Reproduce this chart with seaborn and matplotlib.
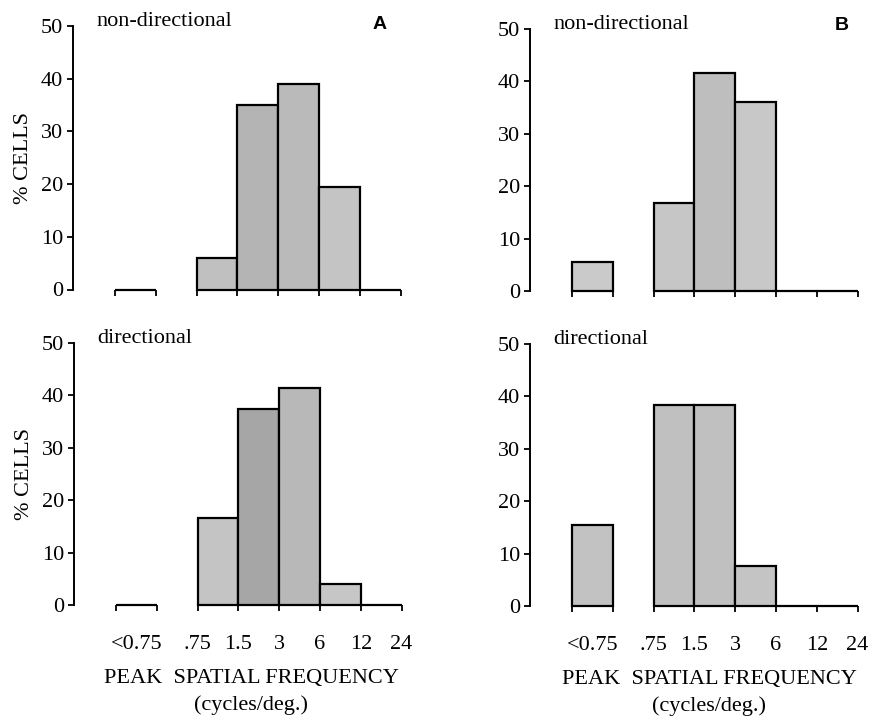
import numpy as np
import pandas as pd
import matplotlib
matplotlib.use("Agg")
import matplotlib.pyplot as plt
import seaborn as sns

# ---- data (percent of cells per peak spatial-frequency bin) ----
bin_labels = ["<0.75", ".75-1.5", "1.5-3", "3-6", "6-12", "12-24"]
edge_labels = [".75", "1.5", "3", "6", "12", "24"]
low_label = "<0.75"

A_nondirectional = [0.0, 6.0, 35.0, 39.0, 19.5, 0.0]
B_nondirectional = [5.6, 16.7, 41.6, 36.0, 0.0, 0.0]
A_directional = [0.0, 16.6, 37.4, 41.5, 4.0, 0.0]
B_directional = [15.4, 38.4, 38.4, 7.7, 0.0, 0.0]

panel_titles = ["non-directional", "non-directional", "directional", "directional"]
panel_letters = ["A", "B", "", ""]
x_title = "PEAK  SPATIAL FREQUENCY\n(cycles/deg.)"
y_title = "% CELLS"

bar_colors = [
    ["#c8c8c8", "#c0c0c0", "#b4b4b4", "#bababa", "#c4c4c4", "#c8c8c8"],
    ["#cacaca", "#c6c6c6", "#bebebe", "#c8c8c8", "#cccccc", "#cccccc"],
    ["#c8c8c8", "#c4c4c4", "#a6a6a6", "#b8b8b8", "#c6c6c6", "#c8c8c8"],
    ["#c2c2c2", "#c0c0c0", "#c0c0c0", "#c4c4c4", "#c4c4c4", "#c4c4c4"],
]

sns.set_theme(style="white")
plt.rcParams["font.family"] = ["Liberation Serif", "DejaVu Serif"]
plt.rcParams["axes.linewidth"] = 1.4

fig = plt.figure(figsize=(8.73, 7.23), dpi=100)
W, H = 873.0, 723.0

# axes boxes in pixels: (x of y-axis, y of zero line, height of 0..50)
boxes = [(73, 289.5, 263.5), (530, 291, 262), (74, 605, 262), (530, 606, 262)]
x_left_units = -1.03
x_right_units = 7.05
px_per_unit = 40.8
xlabel_x = [0.537, 0.543, 0.537, 0.543]
letter_pos = [(0.931, 1.004), (0.946, 1.015)]

all_data = [A_nondirectional, B_nondirectional, A_directional, B_directional]
FS = 16

for i, (vals, (x0, y0, hh)) in enumerate(zip(all_data, boxes)):
    width_px = (x_right_units - x_left_units) * px_per_unit
    ax = fig.add_axes([x0 / W, (H - y0) / H, width_px / W, hh / H])

    # bin positions: <0.75 bin is [0,1], then bin edges at 2..7
    low_df = pd.DataFrame({"pos": [0.5], "pct": [float(vals[0])]})
    main_df = pd.DataFrame({"pos": [2.5, 3.5, 4.5, 5.5, 6.5],
                            "pct": [float(v) for v in vals[1:]]})

    sns.histplot(data=low_df, x="pos", weights="pct", bins=[0.0, 1.0], ax=ax,
                 element="bars", fill=True, edgecolor="black", linewidth=1.6,
                 color=bar_colors[i][0], alpha=1)
    sns.histplot(data=main_df, x="pos", weights="pct",
                 bins=[2.0, 3.0, 4.0, 5.0, 6.0, 7.0], ax=ax,
                 element="bars", fill=True, edgecolor="black", linewidth=1.6,
                 color=bar_colors[i][1], alpha=1)
    for p, c in zip(ax.patches, bar_colors[i]):
        p.set_facecolor(c)
        p.set_clip_on(False)

    ax.set_xlim(x_left_units, x_right_units)
    ax.set_ylim(0, 50)
    for s in ["top", "right", "bottom"]:
        ax.spines[s].set_visible(False)
    ax.spines["left"].set_color("black")
    ax.spines["left"].set_linewidth(1.4)

    ax.set_yticks(range(0, 51, 10))
    ax.tick_params(axis="y", direction="out", length=4, width=1.3, pad=3,
                   labelsize=FS, colors="black", left=True)

    # x ticks: label for low bin at its center (no tick), edge labels at edges
    major_pos = [0.5] + list(range(2, 8))
    ax.set_xticks(major_pos)
    ax.set_xticks([0, 1], minor=True)
    ax.tick_params(axis="x", which="both", direction="out", length=4, width=1.3,
                   bottom=True, colors="black")
    ax.tick_params(axis="x", which="major", pad=17.5, labelsize=FS)
    ax.xaxis.get_major_ticks()[0].tick1line.set_visible(False)
    if i >= 2:
        ax.set_xticklabels([low_label] + edge_labels)
        ax.set_xlabel(x_title, fontsize=FS, linespacing=1.5, color="black")
        ax.xaxis.set_label_coords(xlabel_x[i], -0.245)
        ax.xaxis.label.set_va("top")
    else:
        ax.set_xticklabels([""] * len(major_pos))
        ax.set_xlabel("")

    if i % 2 == 0:
        ax.set_ylabel(y_title, fontsize=FS, color="black", labelpad=6)
    else:
        ax.set_ylabel("")

    ax.text(0.07, 1.0, panel_titles[i], transform=ax.transAxes, fontsize=FS,
            ha="left", va="baseline", color="black")
    if panel_letters[i]:
        lx, ly = letter_pos[i]
        ax.text(lx, ly, panel_letters[i], transform=ax.transAxes,
                fontsize=14, fontweight="bold", family=["Liberation Sans", "DejaVu Sans"],
                ha="center", va="center", color="black")

fig.savefig("out.png", dpi=100)
